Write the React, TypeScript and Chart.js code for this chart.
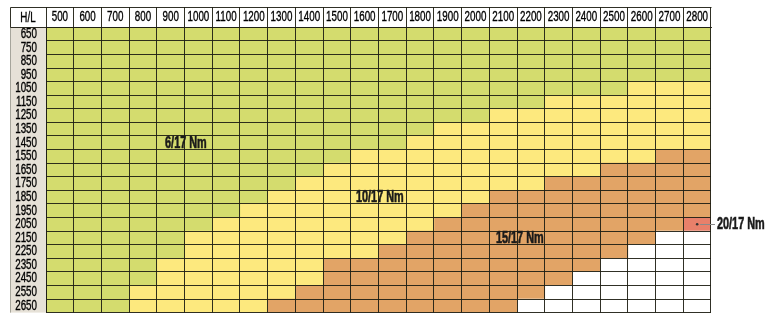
import React, { useEffect, useRef } from "react";
import { Chart, registerables, LinearScale, CategoryScale } from "chart.js";

// ---- data ----
const COLUMNS_L = [500, 600, 700, 800, 900, 1000, 1100, 1200, 1300, 1400, 1500, 1600, 1700, 1800, 1900, 2000, 2100, 2200, 2300, 2400, 2500, 2600, 2700, 2800];
const ROWS_H = [650, 750, 850, 950, 1050, 1150, 1250, 1350, 1450, 1550, 1650, 1750, 1850, 1950, 2050, 2150, 2250, 2350, 2450, 2550, 2650];
// first L where each zone begins, per row (null = zone absent in that row)
const YELLOW_FROM = [null, null, null, null, 2600, 2300, 2100, 1900, 1800, 1600, 1500, 1400, 1300, 1200, 1100, 1000, 1000, 900, 900, 800, 800];
const ORANGE_FROM = [null, null, null, null, null, null, null, null, null, 2700, 2500, 2300, 2100, 2000, 1900, 1800, 1700, 1500, 1500, 1400, 1300];
const WHITE_FROM = [null, null, null, null, null, null, null, null, null, null, null, null, null, null, null, 2700, 2600, 2500, 2400, 2300, 2200];
const RED_CELL = { l: 2800, h: 2050 };
const ZONE_LABELS = [
  { text: "6/17 Nm", l: 955, h: 1450 },
  { text: "10/17 Nm", l: 1655, h: 1850 },
  { text: "15/17 Nm", l: 2160, h: 2150 },
];
const CALLOUT = { text: "20/17 Nm", l: 2800, h: 2050 };
const CORNER_LABEL = "H/L";

// ---- styles ----
const GREEN = "#d4dc6e";
const YELLOW = "#fde97e";
const ORANGE = "#e2a466";
const RED = "#e8806a";
const WHITE = "#ffffff";
const LINE = "rgba(30,30,20,0.92)";
const LABEL_BG = "#e6e1d7";
const FONT = "'Liberation Sans', Arial, sans-serif";
const SQUEEZE = 0.7; // horizontal compression giving a condensed face
const BOLD_SQUEEZE = 0.68;

function drawCondensedLabels(scale: any, chartArea: any) {
  if (!scale.options.ticks.display) return;
  const ctx = scale.ctx;
  const items = scale.getLabelItems(chartArea);
  for (const it of items) {
    const o = it.options;
    ctx.save();
    ctx.translate(o.translation[0], o.translation[1]);
    ctx.scale(SQUEEZE, 1);
    ctx.font = it.font.string;
    ctx.fillStyle = o.color;
    ctx.strokeStyle = o.color;
    ctx.lineWidth = 0.35;
    ctx.textAlign = o.textAlign;
    ctx.textBaseline = o.textBaseline;
    const lines = Array.isArray(it.label) ? it.label : [it.label];
    lines.forEach((ln: any, i: number) => {
      const yy = it.textOffset + i * it.font.lineHeight;
      ctx.fillText(String(ln), 0, yy);
      ctx.strokeText(String(ln), 0, yy);
    });
    ctx.restore();
  }
}

class CondensedLinear extends (LinearScale as any) {
  static id = "condensedLinear";
  static defaults = (LinearScale as any).defaults;
  drawLabels(chartArea: any) {
    drawCondensedLabels(this, chartArea);
  }
}
class CondensedCategory extends (CategoryScale as any) {
  static id = "condensedCategory";
  static defaults = (CategoryScale as any).defaults;
  drawLabels(chartArea: any) {
    drawCondensedLabels(this, chartArea);
  }
}

Chart.register(...registerables, CondensedLinear as any, CondensedCategory as any);

function cellColor(rowIdx: number, l: number): string {
  const h = ROWS_H[rowIdx];
  if (l === RED_CELL.l && h === RED_CELL.h) return RED;
  const w = WHITE_FROM[rowIdx];
  if (w !== null && l >= w) return WHITE;
  const o = ORANGE_FROM[rowIdx];
  if (o !== null && l >= o) return ORANGE;
  const y = YELLOW_FROM[rowIdx];
  if (y !== null && l >= y) return YELLOW;
  return GREEN;
}

function squeezedText(ctx: any, text: string, x: number, y: number, k: number, stroke = 0) {
  ctx.save();
  ctx.translate(x, y);
  ctx.scale(k, 1);
  ctx.fillText(text, 0, 0);
  if (stroke > 0) {
    ctx.lineWidth = stroke;
    ctx.strokeStyle = ctx.fillStyle;
    ctx.strokeText(text, 0, 0);
  }
  ctx.restore();
}

const framePlugin = {
  id: "frame",
  beforeDraw(chart: any) {
    const { ctx, chartArea: a } = chart;
    const xs = chart.scales.x;
    const left = 10;
    ctx.save();
    ctx.fillStyle = LABEL_BG;
    ctx.fillRect(left, a.top, a.left - left, a.bottom - a.top);
    ctx.strokeStyle = "rgba(150,150,140,0.8)";
    ctx.lineWidth = 1;
    ctx.beginPath();
    ctx.moveTo(left + 0.5, a.top);
    ctx.lineTo(left + 0.5, a.bottom);
    ctx.stroke();
    ctx.strokeStyle = LINE;
    ctx.beginPath();
    const top = Math.round(xs.top) + 0.5;
    ctx.moveTo(left + 0.5, top);
    ctx.lineTo(Math.round(a.right) + 0.5, top);
    ctx.moveTo(left + 0.5, top);
    ctx.lineTo(left + 0.5, Math.round(a.top) + 0.5);
    ctx.lineTo(Math.round(a.left) + 0.5, Math.round(a.top) + 0.5);
    ctx.stroke();
    ctx.fillStyle = "#000";
    ctx.font = `14px ${FONT}`;
    ctx.textAlign = "center";
    ctx.textBaseline = "middle";
    squeezedText(ctx, CORNER_LABEL, (left + a.left) / 2, (xs.top + a.top) / 2 + 0.5, SQUEEZE, 0.35);
    ctx.restore();
  },
  afterDraw(chart: any) {
    const { ctx, chartArea: a } = chart;
    const xs = chart.scales.x;
    const ys = chart.scales.y;
    ctx.save();
    ctx.fillStyle = "#1a1a1a";
    ctx.font = `bold 16px ${FONT}`;
    ctx.textAlign = "center";
    ctx.textBaseline = "middle";
    for (const z of ZONE_LABELS) {
      squeezedText(ctx, z.text, xs.getPixelForValue(z.l), ys.getPixelForValue(ROWS_H.indexOf(z.h)) + 0.5, BOLD_SQUEEZE, 0.6);
    }
    const cx = xs.getPixelForValue(CALLOUT.l);
    const cy = ys.getPixelForValue(ROWS_H.indexOf(CALLOUT.h));
    ctx.strokeStyle = "#8a8a8a";
    ctx.lineWidth = 1;
    ctx.beginPath();
    ctx.moveTo(cx + 3, Math.round(cy) + 0.5);
    ctx.lineTo(a.right + 4, Math.round(cy) + 0.5);
    ctx.stroke();
    ctx.fillStyle = "#333";
    ctx.beginPath();
    ctx.arc(cx, cy, 1.3, 0, Math.PI * 2);
    ctx.fill();
    ctx.fillStyle = "#1a1a1a";
    ctx.textAlign = "left";
    squeezedText(ctx, CALLOUT.text, a.right + 6, cy + 0.5, BOLD_SQUEEZE, 0.6);
    ctx.restore();
  },
};

export default function App() {
  const ref = useRef<HTMLCanvasElement | null>(null);
  useEffect(() => {
    if (!ref.current) return;
    const datasets = COLUMNS_L.map((l) => ({
      label: String(l),
      data: ROWS_H.map(() => [l - 50, l + 50]),
      backgroundColor: ROWS_H.map((_, i) => cellColor(i, l)),
      borderWidth: 0,
      barPercentage: 1,
      categoryPercentage: 1,
      grouped: false,
    }));
    const tickFont = { family: FONT, size: 14 };
    const chart = new Chart(ref.current, {
      type: "bar",
      data: { labels: ROWS_H.map(String), datasets: datasets as any },
      plugins: [framePlugin],
      options: {
        indexAxis: "y",
        animation: false,
        responsive: false,
        events: [],
        layout: { padding: { left: 0, right: 56, top: 7, bottom: 7.65 } },
        plugins: { legend: { display: false }, tooltip: { enabled: false } },
        scales: {
          x: {
            type: "condensedLinear" as any,
            position: "top",
            min: 450,
            max: 2850,
            afterBuildTicks: (s: any) => {
              s.ticks = COLUMNS_L.map((v) => ({ value: v }));
            },
            afterFit: (s: any) => {
              s.height = 20.3;
            },
            grid: { offset: true, color: LINE, lineWidth: 1, tickLength: 20.3, drawOnChartArea: true, z: 1 },
            border: { display: true, color: LINE, z: 1 },
            ticks: {
              autoSkip: false,
              maxRotation: 0,
              padding: -19,
              color: "#000",
              font: tickFont,
              callback: (v: any) => String(v),
            },
          } as any,
          y: {
            type: "condensedCategory" as any,
            offset: true,
            afterFit: (s: any) => {
              s.width = 46;
            },
            grid: { offset: true, color: LINE, lineWidth: 1, drawTicks: false, z: 1 },
            border: { display: true, color: LINE, z: 1 },
            ticks: {
              autoSkip: false,
              padding: 9,
              color: "#000",
              font: tickFont,
            },
          } as any,
        },
      },
    });
    return () => chart.destroy();
  }, []);
  return (
    <div style={{ position: "fixed", left: 0, top: 0, width: 767, height: 320, overflow: "hidden", background: "#fff" }}>
      <canvas ref={ref} width={767} height={330} style={{ display: "block", width: 767, height: 330 }} />
    </div>
  );
}
